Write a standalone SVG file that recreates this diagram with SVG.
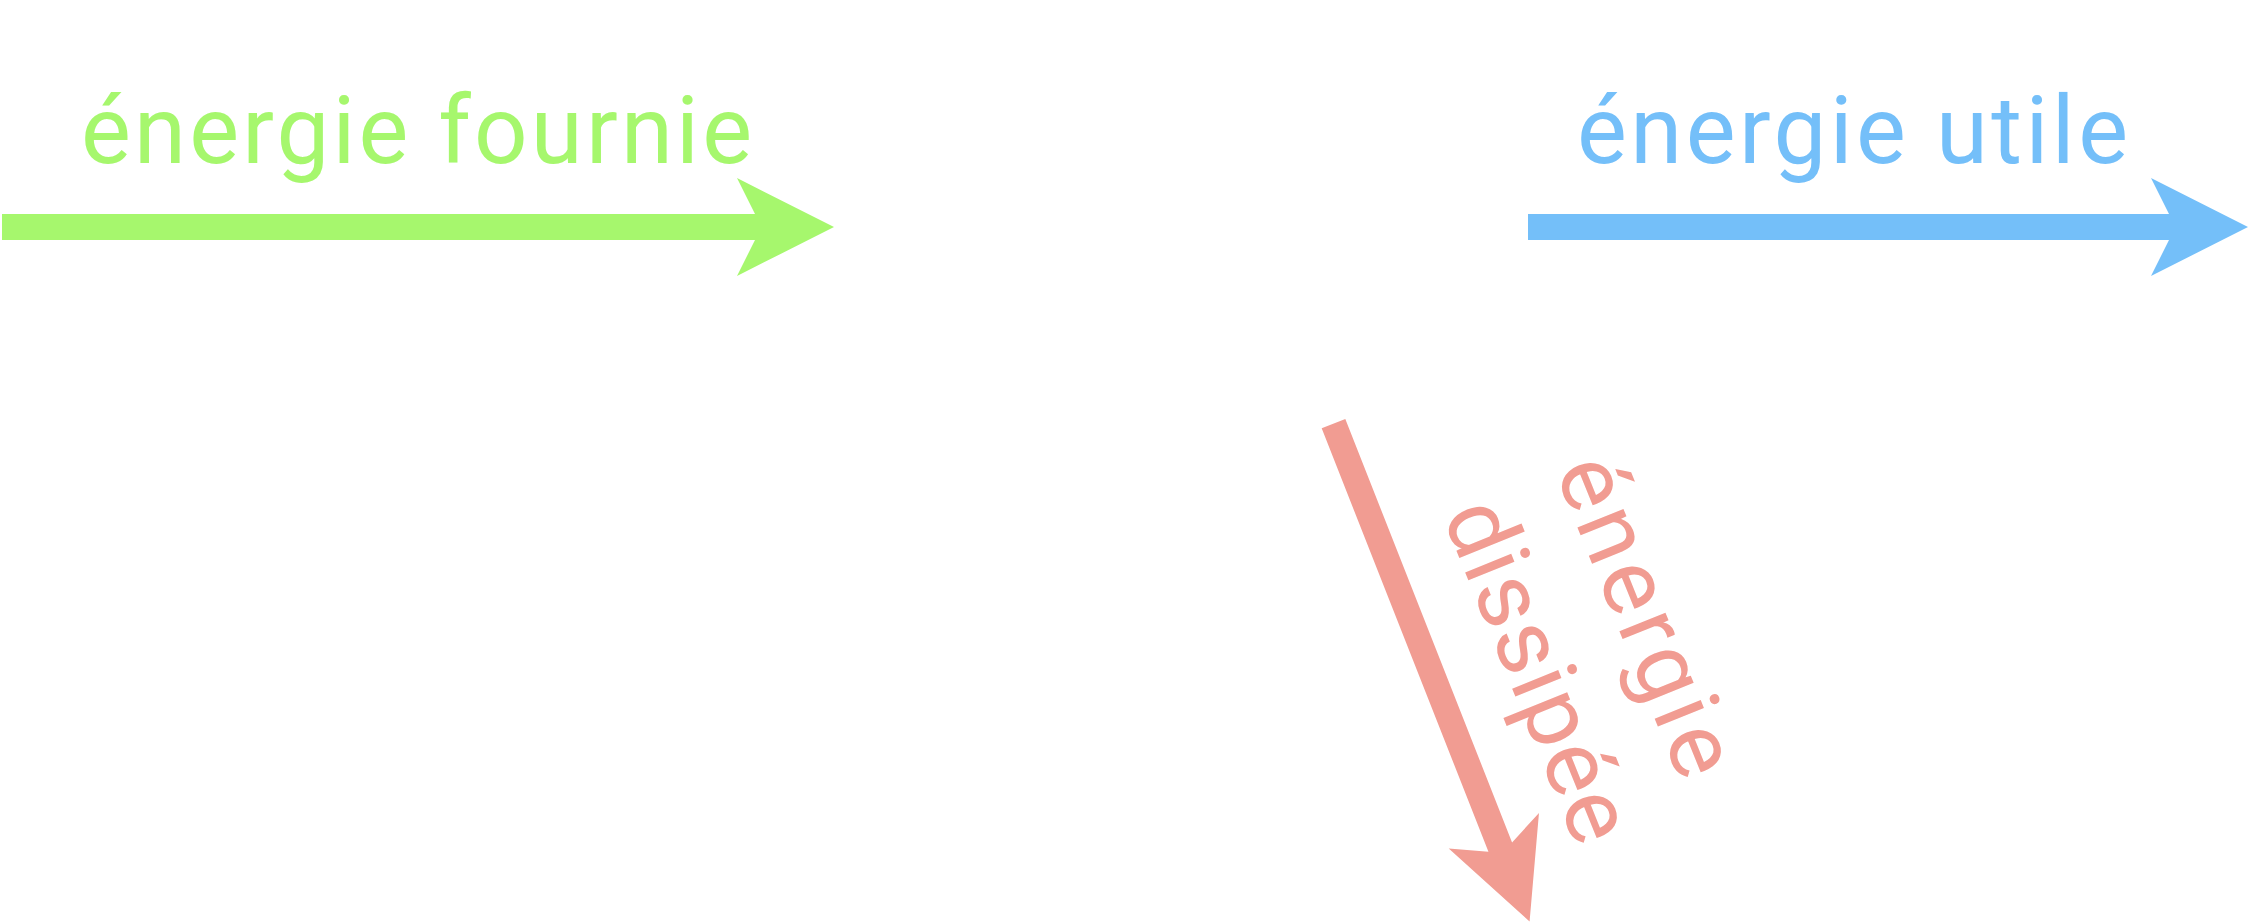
<svg xmlns="http://www.w3.org/2000/svg" width="2250" height="924" viewBox="0 0 2250 924">
<style>
text{font-family:"Roboto","Lato","Liberation Sans",sans-serif;font-size:94px;font-weight:400}
.g{fill:#a6f76d}.b{fill:#74bff9}.p{fill:#f19c92}
</style>
<defs>
<polygon id="pinkArrow" points="0,-12.7 455,-12.7 437.5,-48.5 535,0 437.5,48.5 455,12.7 0,12.7"/>
</defs>
<rect width="2250" height="924" fill="#fff"/>
<g id="connectors">
<polygon id="arrow-fournie" class="g" points="2,214 755,214 737,178 834,227 737,276 755,240 2,240"/>
<polygon id="arrow-utile" class="b" points="1528,214 2169,214 2151,178 2248,227 2151,276 2169,240 1528,240"/>
<use id="arrow-dissipee" class="p" href="#pinkArrow" transform="translate(1333.5,423.7) rotate(68.5)"/>
</g>
<g id="label-fournie"><text class="g" x="81" y="163" textLength="671" lengthAdjust="spacing">énergie fournie</text></g>
<g id="label-utile"><text class="b" x="1577" y="163" textLength="551" lengthAdjust="spacing">énergie utile</text></g>
<g id="label-dissipee">
<text class="p" transform="translate(1554.5,470.7) rotate(68)" textLength="338" lengthAdjust="spacing">énergie</text>
<text class="p" transform="translate(1442,515) rotate(68)" textLength="361" lengthAdjust="spacing">dissipée</text>
</g>
</svg>
